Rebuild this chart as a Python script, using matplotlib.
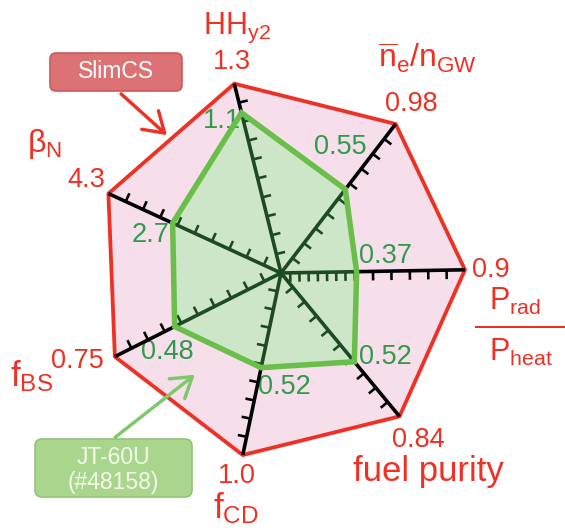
import numpy as np
import matplotlib
matplotlib.use("Agg")
import matplotlib.pyplot as plt
from matplotlib.patches import Polygon, FancyBboxPatch

plt.rcParams["font.family"] = ["Liberation Sans", "DejaVu Sans"]
plt.rcParams["mathtext.fontset"] = "custom"
plt.rcParams["mathtext.rm"] = "Liberation Sans"
plt.rcParams["mathtext.it"] = "Liberation Sans:italic"
plt.rcParams["mathtext.bf"] = "Liberation Sans:bold"
plt.rcParams["mathtext.sf"] = "Liberation Sans"

# Radar axes, counter-clockwise starting from the right-hand axis
axis_names = ["Prad/Pheat", "ne/nGW", "HHy2", "betaN", "fBS", "fCD", "fuel purity"]
slimcs = [0.9, 0.98, 1.3, 4.3, 0.75, 1.0, 0.84]
jt60u = [0.37, 0.55, 1.1, 2.7, 0.48, 0.52, 0.52]
slimcs_labels = ["0.9", "0.98", "1.3", "4.3", "0.75", "1.0", "0.84"]
jt60u_labels = ["0.37", "0.55", "1.1", "2.7", "0.48", "0.52", "0.52"]

RED = "#ee3124"
PINK = "#f6dfea"
GREEN_FILL = "#cce6c7"
GREEN_EDGE = "#6abf4b"
DARK_GREEN = "#1d4a20"
GREEN_TEXT = "#2f9a4a"

PX = 72 / 100  # points per pixel

fig = plt.figure(figsize=(5.65, 5.31), dpi=100)
ax = fig.add_axes([0, 0, 1, 1])
ax.set_xlim(0, 565)
ax.set_ylim(531, 0)
ax.axis("off")

cx, cy = 281, 273
radii = [184, 188, 195, 190, 186, 186, 186]
n = len(axis_names)
angles = np.deg2rad(1 + np.arange(n) * 360 / n)


def point(i, frac):
    r = radii[i] * frac
    return cx + r * np.cos(angles[i]), cy - r * np.sin(angles[i])


frac_jt = [j / s for j, s in zip(jt60u, slimcs)]
outer = [point(i, 1.0) for i in range(n)]
inner = [point(i, frac_jt[i]) for i in range(n)]

# SlimCS envelope
ax.add_patch(Polygon(outer, closed=True, facecolor=PINK, edgecolor=RED,
                     lw=3.8 * PX, joinstyle="miter", zorder=1))
# JT-60U fill
ax.add_patch(Polygon(inner, closed=True, facecolor=GREEN_FILL, edgecolor="none", zorder=2))

# spokes with ticks
tick_len = 9
for i in range(n):
    x0, y0 = cx, cy
    xg, yg = inner[i]
    xo, yo = outer[i]
    ax.plot([x0, xg], [y0, yg], color=DARK_GREEN, lw=3.6 * PX, solid_capstyle="butt", zorder=3)
    ax.plot([xg, xo], [yg, yo], color="black", lw=3.6 * PX, solid_capstyle="butt", zorder=3)
    fr = [k / 10 for k in range(1, 10)]
    if i == 0:
        fr = [k / 20 for k in range(1, 9)] + [k / 10 for k in range(5, 10)]
    a = angles[i] - np.pi / 2
    for f in fr:
        px_, py_ = point(i, f)
        col = DARK_GREEN if f < frac_jt[i] else "black"
        ax.plot([px_, px_ + tick_len * np.cos(a)], [py_, py_ - tick_len * np.sin(a)],
                color=col, lw=2.6 * PX, solid_capstyle="butt", zorder=3)

# JT-60U outline
ax.add_patch(Polygon(inner, closed=True, facecolor="none", edgecolor=GREEN_EDGE,
                     lw=5.5 * PX, joinstyle="miter", zorder=4))

# value labels
slim_pos = [(491, 270), (411, 104), (232, 62), (86, 180), (77, 361), (237, 476), (418, 440)]
jt_pos = [(386, 256), (340, 147), (222, 121), (151, 235), (167, 352), (284, 387), (385, 357)]
for lab, (x, y) in zip(slimcs_labels, slim_pos):
    ax.text(x, y, lab, color=RED, fontsize=19.5, ha="center", va="center", zorder=5)
for lab, (x, y) in zip(jt60u_labels, jt_pos):
    ax.text(x, y, lab, color=GREEN_TEXT, fontsize=19.5, ha="center", va="center", zorder=2.5)

# axis titles
ax.text(203, 34, r"HH$_{\mathrm{y2}}$", color=RED, fontsize=22, ha="left", va="baseline")
ax.text(378, 68, r"$\overline{\mathrm{n}}_{\mathrm{e}}$/n$_{\mathrm{GW}}$", color=RED,
        fontsize=23, ha="left", va="baseline")
ax.text(489, 310, r"P$_{\mathrm{rad}}$", color=RED, fontsize=22, ha="left", va="baseline")
ax.plot([476, 564], [327, 327], color=RED, lw=2 * PX)
ax.text(489, 361, r"P$_{\mathrm{heat}}$", color=RED, fontsize=22, ha="left", va="baseline")
ax.text(428, 481, "fuel purity", color=RED, fontsize=25, ha="center", va="baseline")
ax.text(213, 518, r"f$_{\mathrm{CD}}$", color=RED, fontsize=25, ha="left", va="baseline")
ax.text(10, 386, r"f$_{\mathrm{BS}}$", color=RED, fontsize=25, ha="left", va="baseline")
ax.text(27, 152, r"β$_{\mathrm{N}}$", color=RED, fontsize=23, ha="left", va="baseline")

# legend boxes with arrows
ax.add_patch(FancyBboxPatch((50, 53), 132, 38, boxstyle="round,pad=0,rounding_size=6",
                            facecolor="#dc7273", edgecolor="#c85c5d", lw=1.2, zorder=6))
ax.text(116, 72, "SlimCS", color="white", fontsize=16.5, ha="center", va="center", zorder=7)
ax.annotate("", xy=(169, 137), xytext=(119, 92),
            arrowprops=dict(arrowstyle="->,head_length=0.7,head_width=0.45",
                            color=RED, lw=3.4 * PX, mutation_scale=20), zorder=6)

ax.add_patch(FancyBboxPatch((35, 439), 157, 58, boxstyle="round,pad=0,rounding_size=7",
                            facecolor="#a9d68c", edgecolor="#93c475", lw=1.2, zorder=6))
ax.text(113, 457, "JT-60U", color="#f4f9ee", fontsize=16.5, ha="center", va="center", zorder=7)
ax.text(113, 483, "(#48158)", color="#f4f9ee", fontsize=16.5, ha="center", va="center", zorder=7)
ax.annotate("", xy=(197, 373), xytext=(113, 439),
            arrowprops=dict(arrowstyle="->,head_length=0.7,head_width=0.45",
                            color="#7cc96c", lw=3.4 * PX, mutation_scale=20), zorder=6)

fig.savefig("out.png", dpi=100)
